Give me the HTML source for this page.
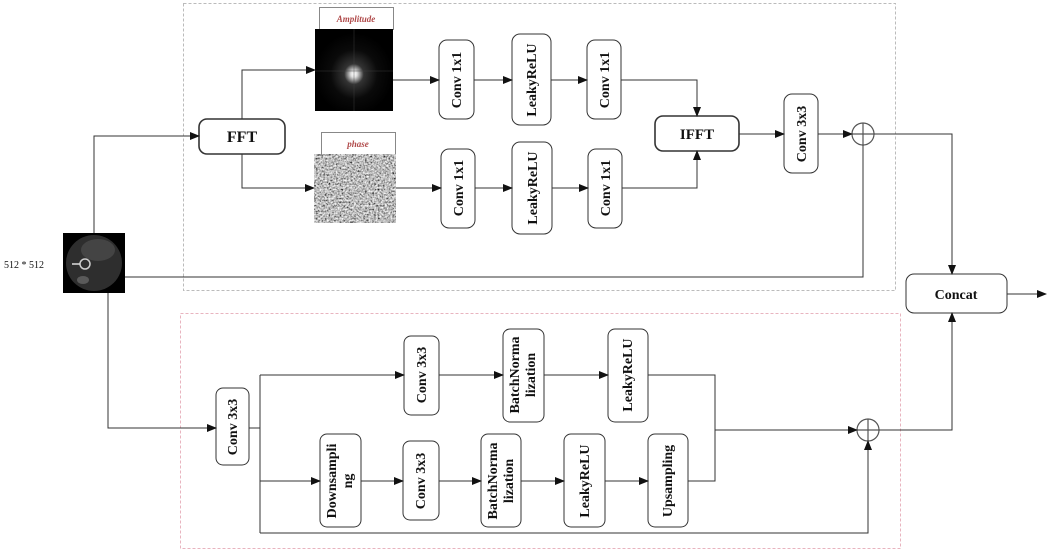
<!DOCTYPE html>
<html><head><meta charset="utf-8"><style>
html,body{margin:0;padding:0;background:#fff}
svg{display:block}
text{font-family:"Liberation Serif",serif;font-weight:bold;fill:#111}
</style></head><body>
<svg width="1052" height="552" viewBox="0 0 1052 552" xmlns="http://www.w3.org/2000/svg">
<defs>
<marker id="a" markerWidth="10" markerHeight="8" refX="9" refY="4" orient="auto" markerUnits="userSpaceOnUse">
<path d="M0,0 L10,4 L0,8 z" fill="#111"/></marker>
<radialGradient id="amp" cx="0.5" cy="0.55" r="0.5">
<stop offset="0" stop-color="#fff"/><stop offset="0.08" stop-color="#ddd"/><stop offset="0.25" stop-color="#333"/><stop offset="0.6" stop-color="#0a0a0a"/><stop offset="1" stop-color="#000"/></radialGradient>
<filter id="noise" x="0" y="0" width="1" height="1">
<feTurbulence type="fractalNoise" baseFrequency="0.55" numOctaves="2" seed="5" result="n"/>
<feColorMatrix in="n" type="matrix" values="1.6 0 0 0 -0.3  1.6 0 0 0 -0.3  1.6 0 0 0 -0.3  0 0 0 0 1"/>
</filter>
</defs>

<rect x="183.5" y="3.5" width="712" height="287" fill="none" stroke="#bbb" stroke-dasharray="3,2"/>
<rect x="180.5" y="313.5" width="720" height="235" fill="none" stroke="#e8b4bf" stroke-dasharray="3,2"/>

<text x="4" y="268" style="font-weight:normal;font-size:10px">512 * 512</text>
<rect x="63" y="233" width="62" height="60" fill="#000"/>
<circle cx="94" cy="263" r="28" fill="#2e2e2e"/>
<ellipse cx="98" cy="250" rx="17" ry="11" fill="#444"/>
<circle cx="85" cy="264" r="5" fill="none" stroke="#ccc" stroke-width="1.5"/>
<line x1="72" y1="264" x2="80" y2="264" stroke="#ddd" stroke-width="1.5"/>
<ellipse cx="83" cy="280" rx="6" ry="4" fill="#5a5a5a"/>

<rect x="319.5" y="7.5" width="74" height="22" fill="#fff" stroke="#888"/>
<text x="356" y="22" text-anchor="middle" style="font-size:9px;font-style:italic;fill:#b04a4a">Amplitude</text>
<rect x="315" y="29" width="78" height="82" fill="url(#amp)"/>
<line x1="354" y1="29" x2="354" y2="111" stroke="#444" stroke-width="1" opacity="0.4"/>
<line x1="315" y1="71" x2="393" y2="71" stroke="#444" stroke-width="1" opacity="0.4"/>
<rect x="321.5" y="132.5" width="74" height="22" fill="#fff" stroke="#888"/>
<text x="358" y="147" text-anchor="middle" style="font-size:9px;font-style:italic;fill:#b04a4a">phase</text>
<rect x="314" y="154" width="82" height="69" fill="#777" filter="url(#noise)"/>

<g fill="#fff" stroke="#333" stroke-width="1">
<rect x="199" y="119" width="86" height="35" rx="8" stroke-width="1.6"/>
<rect x="439" y="40" width="35" height="79" rx="8"/>
<rect x="512" y="34" width="39" height="91" rx="8"/>
<rect x="587" y="40" width="34" height="79" rx="8"/>
<rect x="441" y="149" width="34" height="79" rx="8"/>
<rect x="512" y="142" width="40" height="92" rx="8"/>
<rect x="588" y="149" width="34" height="79" rx="8"/>
<rect x="655" y="116" width="84" height="35" rx="8" stroke-width="1.6"/>
<rect x="784" y="94" width="34" height="79" rx="8"/>
<rect x="906" y="274" width="101" height="39" rx="8"/>
<rect x="216" y="388" width="33" height="77" rx="7"/>
<rect x="404" y="336" width="35" height="79" rx="7"/>
<rect x="503" y="329" width="41" height="93" rx="7"/>
<rect x="608" y="329" width="40" height="93" rx="7"/>
<rect x="320" y="434" width="41" height="93" rx="7"/>
<rect x="403" y="441" width="36" height="79" rx="7"/>
<rect x="481" y="434" width="40" height="93" rx="7"/>
<rect x="564" y="434" width="41" height="93" rx="7"/>
<rect x="648" y="434" width="40" height="93" rx="7"/>
</g>

<g fill="#fff" stroke="#555" stroke-width="1.2">
<circle cx="863" cy="134" r="11"/>
<circle cx="868" cy="430" r="11"/>
</g>
<g stroke="#555" stroke-width="1.2">
<line x1="852" y1="134" x2="874" y2="134"/><line x1="863" y1="123" x2="863" y2="145"/>
<line x1="857" y1="430" x2="879" y2="430"/><line x1="868" y1="419" x2="868" y2="441"/>
</g>

<g fill="none" stroke="#333" stroke-width="1">
<polyline points="94,233 94,136 199,136" marker-end="url(#a)"/>
<polyline points="242,119 242,70 315,70" marker-end="url(#a)"/>
<polyline points="242,154 242,188 314,188" marker-end="url(#a)"/>
<line x1="393" y1="80" x2="439" y2="80" marker-end="url(#a)"/>
<line x1="474" y1="80" x2="512" y2="80" marker-end="url(#a)"/>
<line x1="551" y1="80" x2="587" y2="80" marker-end="url(#a)"/>
<polyline points="621,80 697,80 697,116" marker-end="url(#a)"/>
<line x1="396" y1="188" x2="441" y2="188" marker-end="url(#a)"/>
<line x1="475" y1="188" x2="512" y2="188" marker-end="url(#a)"/>
<line x1="552" y1="188" x2="588" y2="188" marker-end="url(#a)"/>
<polyline points="622,188 697,188 697,151" marker-end="url(#a)"/>
<line x1="739" y1="134" x2="784" y2="134" marker-end="url(#a)"/>
<line x1="818" y1="134" x2="852" y2="134" marker-end="url(#a)"/>
<polyline points="125,277 863,277 863,145"/>
<polyline points="874,134 952,134 952,274" marker-end="url(#a)"/>
<line x1="1007" y1="294" x2="1046" y2="294" marker-end="url(#a)"/>
<polyline points="108,293 108,428 216,428" marker-end="url(#a)"/>
<polyline points="249,428 260,428"/>
<line x1="260" y1="375" x2="260" y2="533"/>
<line x1="260" y1="375" x2="404" y2="375" marker-end="url(#a)"/>
<line x1="439" y1="375" x2="503" y2="375" marker-end="url(#a)"/>
<line x1="544" y1="375" x2="608" y2="375" marker-end="url(#a)"/>
<polyline points="648,375 715,375 715,481 688,481"/>
<line x1="260" y1="481" x2="320" y2="481" marker-end="url(#a)"/>
<line x1="361" y1="481" x2="403" y2="481" marker-end="url(#a)"/>
<line x1="439" y1="481" x2="481" y2="481" marker-end="url(#a)"/>
<line x1="521" y1="481" x2="564" y2="481" marker-end="url(#a)"/>
<line x1="605" y1="481" x2="648" y2="481" marker-end="url(#a)"/>
<line x1="715" y1="430" x2="857" y2="430" marker-end="url(#a)"/>
<polyline points="260,533 868,533 868,441" marker-end="url(#a)"/>
<polyline points="879,430 952,430 952,313" marker-end="url(#a)"/>
</g>

<text x="242" y="142" text-anchor="middle" style="font-size:16px">FFT</text>
<text x="697" y="139" text-anchor="middle" style="font-size:15px">IFFT</text>
<text x="956" y="299" text-anchor="middle" style="font-size:14px">Concat</text>
<g style="font-size:14px" text-anchor="middle">
<text transform="translate(461,80) rotate(-90)">Conv 1x1</text>
<text transform="translate(536,80) rotate(-90)">LeakyReLU</text>
<text transform="translate(609,80) rotate(-90)">Conv 1x1</text>
<text transform="translate(463,188) rotate(-90)">Conv 1x1</text>
<text transform="translate(537,188) rotate(-90)">LeakyReLU</text>
<text transform="translate(610,188) rotate(-90)">Conv 1x1</text>
<text transform="translate(806,134) rotate(-90)">Conv 3x3</text>
<text transform="translate(237,427) rotate(-90)">Conv 3x3</text>
<text transform="translate(426,375) rotate(-90)">Conv 3x3</text>
<text transform="translate(632,375) rotate(-90)">LeakyReLU</text>
<text transform="translate(425,481) rotate(-90)">Conv 3x3</text>
<text transform="translate(589,481) rotate(-90)">LeakyReLU</text>
<text transform="translate(672,481) rotate(-90)">Upsampling</text>
<text transform="translate(519,375) rotate(-90)">BatchNorma</text>
<text transform="translate(535,375) rotate(-90)">lization</text>
<text transform="translate(497,481) rotate(-90)">BatchNorma</text>
<text transform="translate(513,481) rotate(-90)">lization</text>
<text transform="translate(336,481) rotate(-90)">Downsampli</text>
<text transform="translate(352,481) rotate(-90)">ng</text>
</g>
</svg>
</body></html>
